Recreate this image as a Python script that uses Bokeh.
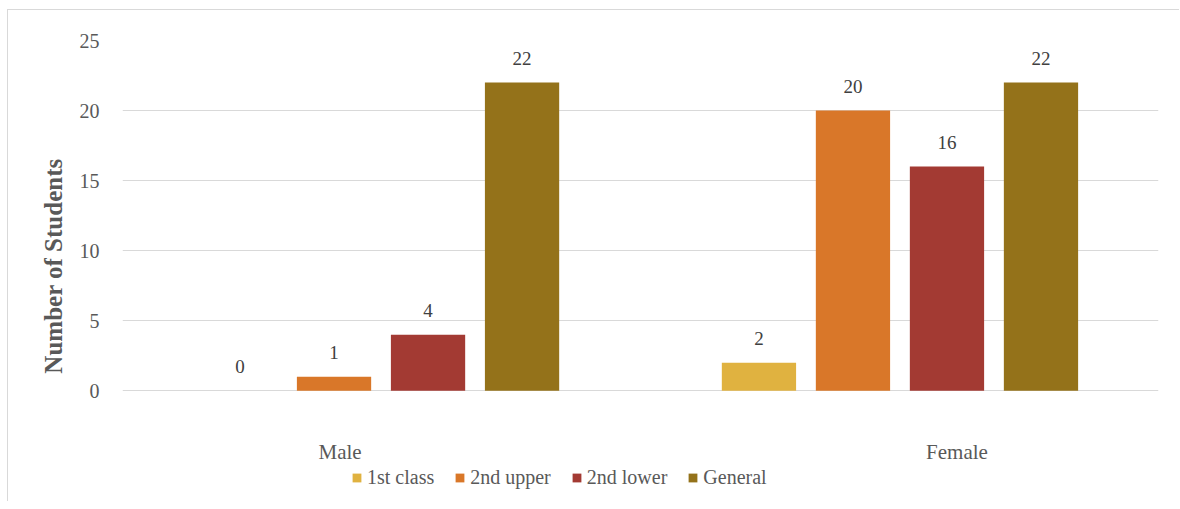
from bokeh.plotting import figure
from bokeh.models import (ColumnDataSource, FactorRange, LabelSet, Legend, LegendItem,
                          FixedTicker, Range1d)
from bokeh.embed import file_html
from bokeh.resources import INLINE

# ---- data ----
genders = ["Male", "Female"]
classes = ["1st class", "2nd upper", "2nd lower", "General"]
male = [0, 1, 4, 22]
female = [2, 20, 16, 22]
y_ticks = [0, 5, 10, 15, 20, 25]

# ---- style ----
colors = ["#E0B240", "#D97729", "#A33A33", "#94721A"]
FONT = "Liberation Serif"
label_offsets = [-41, 57]

factors = [(g, c) for g in genders for c in classes]
x_range = FactorRange(factors=factors, range_padding=0.75, range_padding_units="absolute",
                      group_padding=1.52, factor_padding=0)

p = figure(x_range=x_range, y_range=Range1d(-7.2, 25), frame_width=1036, frame_height=451,
           output_backend="svg", toolbar_location=None,
           min_border_left=114, min_border_right=21, min_border_top=30, min_border_bottom=10)
p.styles = {"margin-left": "7px", "margin-top": "9px",
            "border-left": "1px solid #D9D9D9", "border-top": "1px solid #D9D9D9"}
p.outline_line_color = None
p.xgrid.grid_line_color = None
p.ygrid.grid_line_color = "#D9D9D9"
p.ygrid.grid_line_width = 1
p.xaxis.visible = False

ya = p.yaxis[0]
ya.ticker = FixedTicker(ticks=y_ticks)
ya.axis_line_color = None
ya.major_tick_line_color = None
ya.minor_tick_line_color = None
ya.major_label_standoff = 17
ya.major_label_text_font = FONT
ya.major_label_text_font_size = "20px"
ya.major_label_text_color = "#595959"
ya.axis_label = "Number of Students"
ya.axis_label_text_font = FONT
ya.axis_label_text_font_size = "25px"
ya.axis_label_text_font_style = "bold"
ya.axis_label_text_color = "#595959"
ya.axis_label_standoff = 10

items = []
for i, cls in enumerate(classes):
    src = ColumnDataSource(dict(x=[(g, cls) for g in genders],
                                top=[male[i], female[i]],
                                txt=[str(male[i]), str(female[i])]))
    r = p.vbar(x="x", top="top", width=0.79, source=src, fill_color=colors[i],
               line_color=None)
    items.append(LegendItem(label=cls, renderers=[r]))
    p.add_layout(LabelSet(x="x", y="top", text="txt", source=src, y_offset=24,
                          text_align="center", text_baseline="middle",
                          text_font=FONT, text_font_size="19px", text_color="#404040"))

cat_src = ColumnDataSource(dict(x=genders, y=[0, 0], off=label_offsets))
p.add_layout(LabelSet(x="x", y="y", text="x", source=cat_src, x_offset="off", y_offset=-61,
                      text_align="center", text_baseline="middle",
                      text_font=FONT, text_font_size="21px", text_color="#595959"))

legend = Legend(items=items, orientation="horizontal", location=(229, 2),
                padding=0, margin=0, border_line_color=None, background_fill_alpha=0,
                glyph_width=11, glyph_height=11, label_standoff=5, spacing=20,
                label_text_font=FONT, label_text_font_size="20px",
                label_text_color="#595959")
p.add_layout(legend, "center")

open("out.html", "w").write(file_html(p, INLINE))
